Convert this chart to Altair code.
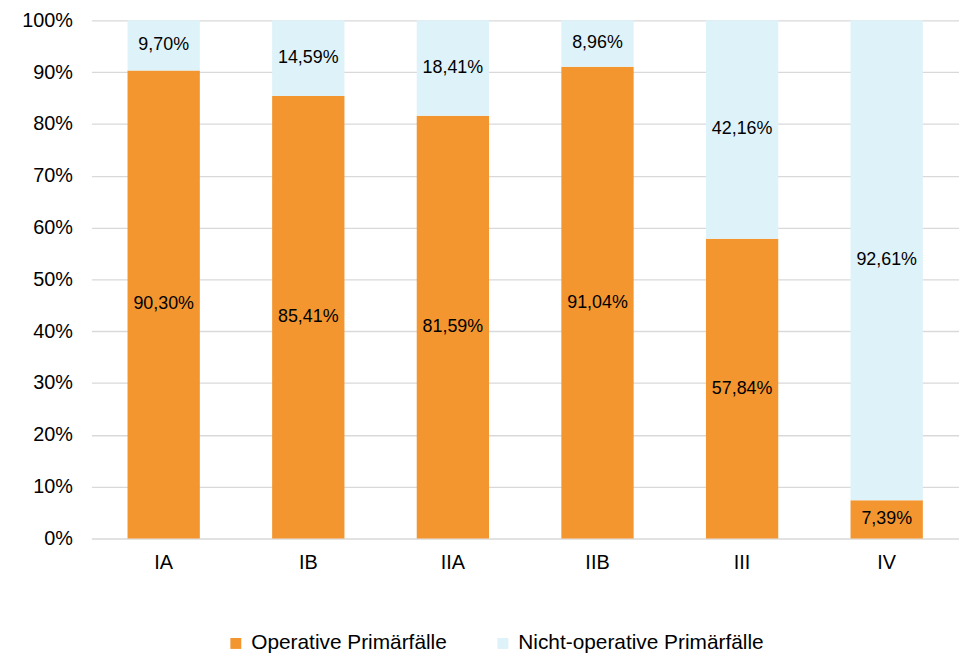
import altair as alt
import pandas as pd

categories = ["IA", "IB", "IIA", "IIB", "III", "IV"]
operative = [90.30, 85.41, 81.59, 91.04, 57.84, 7.39]
nicht_operative = [9.70, 14.59, 18.41, 8.96, 42.16, 92.61]
series_names = ["Operative Primärfälle", "Nicht-operative Primärfälle"]
colors = ["#F39630", "#DEF2F9"]

rows = []
for i, c in enumerate(categories):
    start = 0.0
    for s, vals in zip(series_names, [operative, nicht_operative]):
        v = vals[i]
        rows.append({
            "cat": c, "series": s, "value": v / 100,
            "y0": start / 100, "y1": (start + v) / 100,
            "mid": (start + v / 2) / 100,
            "label": f"{v:.2f}".replace(".", ",") + "%",
        })
        start += v
df = pd.DataFrame(rows)

FONT = "Liberation Sans"

x = alt.X("cat:N", sort=categories, title=None,
          scale=alt.Scale(paddingInner=0.5, paddingOuter=0.25),
          axis=alt.Axis(labelAngle=0, labelFontSize=20, labelFont=FONT, labelColor="#000000",
                        ticks=False, domain=False, labelPadding=14))

bars = alt.Chart(df).mark_bar().encode(
    x=x,
    y=alt.Y("y0:Q", title=None,
            scale=alt.Scale(domain=[0, 1], nice=False),
            axis=alt.Axis(format=".0%", values=[i / 10 for i in range(11)],
                          labelFontSize=20, labelFont=FONT, labelColor="#000000",
                          ticks=False, domain=False, gridColor="#D9D9D9", gridWidth=1.3,
                          labelPadding=19)),
    y2="y1:Q",
    color=alt.Color("series:N", sort=series_names,
                    scale=alt.Scale(domain=series_names, range=colors),
                    legend=alt.Legend(title=None, orient="none", legendX=135, legendY=617,
                                      padding=0,
                                      direction="horizontal", symbolType="square",
                                      symbolSize=121, symbolStrokeWidth=0,
                                      labelFontSize=21, labelFont=FONT, labelColor="#000000",
                                      columnPadding=45, labelOffset=5, labelLimit=400)),
)

labels = alt.Chart(df).mark_text(font=FONT, fontSize=18, color="#000000").encode(
    x=alt.X("cat:N", sort=categories),
    y=alt.Y("mid:Q"),
    text="label:N",
)

chart = alt.layer(bars, labels).properties(
    width=874, height=522,
    autosize=alt.AutoSizeParams(type="none"),
    padding={"left": 84, "top": 10, "right": 0, "bottom": 118},
).configure_view(stroke=None)

chart.save("out.html", embed_options={"renderer": "svg", "actions": False})
